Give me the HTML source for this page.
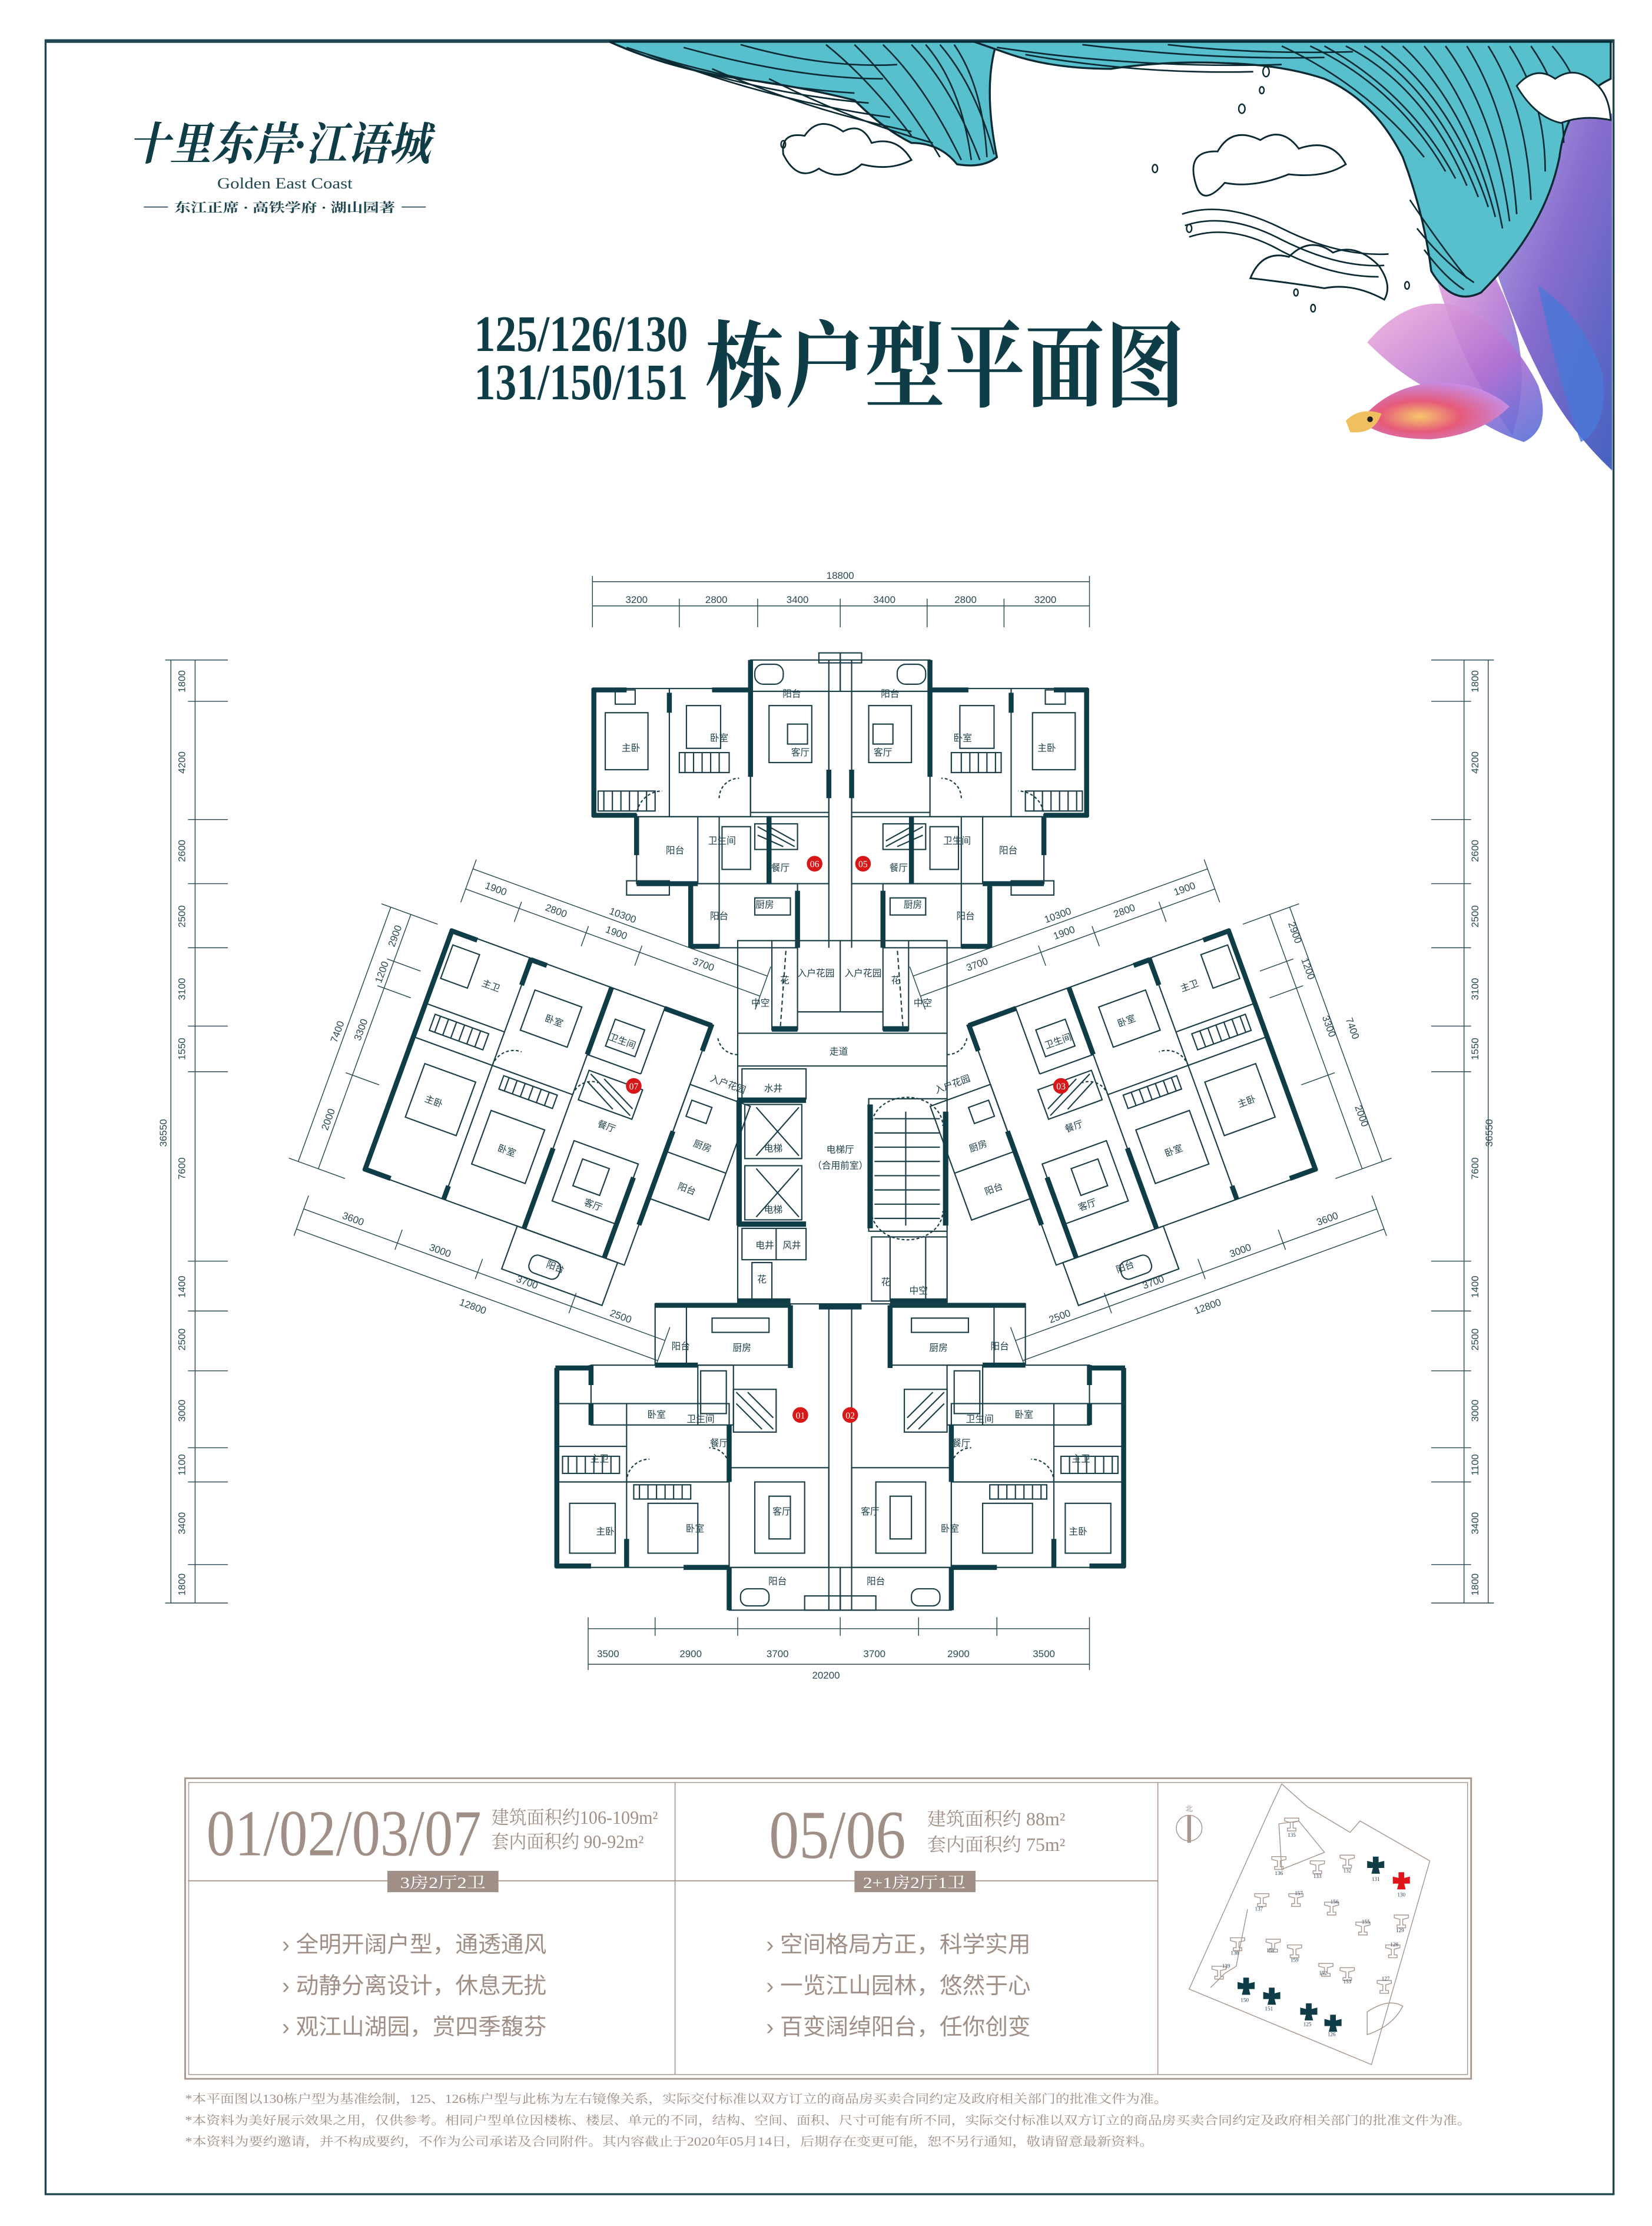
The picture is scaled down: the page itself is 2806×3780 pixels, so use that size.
<!DOCTYPE html>
<html><head><meta charset="utf-8">
<style>
html,body{margin:0;padding:0;background:#fff;}
svg{display:block;}
.t{font-family:"Liberation Serif","Noto Serif CJK SC",serif;}
.lb{font-family:"Liberation Sans","Noto Sans CJK SC",sans-serif;font-size:6.5px;fill:#1c3f48;}
.dm{font-family:"Liberation Sans",sans-serif;font-size:7px;fill:#2a4a52;}
</style></head>
<body>
<svg width="2806" height="3780" viewBox="0 0 1160 1562" xmlns="http://www.w3.org/2000/svg">
<defs>
<linearGradient id="fishA" x1="0" y1="0" x2="1" y2="1">
<stop offset="0" stop-color="#b8b0e8"/><stop offset="0.5" stop-color="#7a5cc8"/><stop offset="1" stop-color="#3050b8"/></linearGradient>
<linearGradient id="fishB" x1="0" y1="0" x2="1" y2="1">
<stop offset="0" stop-color="#f2b0dc"/><stop offset="0.6" stop-color="#b070d2"/><stop offset="1" stop-color="#5070d8"/></linearGradient>
<radialGradient id="fishC" cx="0.4" cy="0.6" r="0.6">
<stop offset="0" stop-color="#f7c76b"/><stop offset="0.45" stop-color="#e65a7a"/><stop offset="1" stop-color="#c98ae0"/></radialGradient>

<g id="upHalf" fill="none" stroke="#1c3f48" stroke-width="0.9">
 <rect x="416" y="483" width="111" height="90"/>
 <line x1="470" y1="483" x2="470" y2="573"/>
 <rect x="527" y="463" width="63" height="22"/>
 <rect x="527" y="485" width="55" height="85"/>
 <rect x="540" y="495" width="30" height="40"/>
 <rect x="553" y="508" width="14" height="14"/>
 <rect x="447" y="573" width="93" height="47"/>
 <line x1="490" y1="573" x2="490" y2="620"/>
 <line x1="505" y1="573" x2="505" y2="620"/>
 <rect x="540" y="573" width="42" height="47"/>
 <rect x="530" y="578" width="30" height="18"/>
 <path d="M532 580 L558 594 M540 580 L558 590 M532 586 L550 594"/>
 <rect x="485" y="620" width="75" height="45"/>
 <line x1="505" y1="620" x2="505" y2="665"/>
 <rect x="440" y="618" width="30" height="10"/>
 <rect x="420" y="555" width="40" height="14"/>
 <path d="M424 555 V569 M430 555 V569 M436 555 V569 M442 555 V569 M448 555 V569 M454 555 V569"/>
 <rect x="477" y="528" width="35" height="14"/>
 <path d="M481 528 V542 M487 528 V542 M493 528 V542 M499 528 V542 M505 528 V542"/>
 <rect x="425" y="500" width="30" height="40"/>
 <rect x="482" y="495" width="24" height="30"/>
 <rect x="432" y="484" width="14" height="10"/>
 <rect x="530" y="466" width="20" height="14" rx="6"/>
 <rect x="507" y="580" width="20" height="30"/>
 <rect x="530" y="630" width="25" height="12"/>
 <line x1="582" y1="463" x2="582" y2="665"/>
 <path d="M447 573 A18 18 0 0 1 465 555" stroke-dasharray="2 1.5"/>
 <path d="M505 560 A14 14 0 0 1 519 546" stroke-dasharray="2 1.5"/>
 <g stroke="#0f3d47" stroke-width="3.5">
  <line x1="417" y1="483" x2="417" y2="573"/>
  <line x1="416" y1="484" x2="440" y2="484"/>
  <line x1="500" y1="484" x2="527" y2="484"/>
  <line x1="527" y1="483" x2="527" y2="545"/>
  <line x1="470" y1="486" x2="470" y2="500"/>
  <line x1="540" y1="573" x2="540" y2="620"/>
  <line x1="485" y1="621" x2="485" y2="665"/>
  <line x1="485" y1="664" x2="505" y2="664"/>
  <line x1="447" y1="620" x2="490" y2="620"/>
  <line x1="560" y1="625" x2="560" y2="665"/>
  <line x1="447" y1="573" x2="447" y2="600"/>
  <line x1="416" y1="572" x2="447" y2="572"/>
  <line x1="527" y1="463" x2="527" y2="485"/>
  <line x1="582" y1="540" x2="582" y2="560"/>
 </g>
 <rect x="575" y="458" width="15" height="7"/>
</g>

<g id="lowHalf" fill="none" stroke="#1c3f48" stroke-width="0.9">
 <rect x="460" y="915" width="95" height="43"/>
 <line x1="482" y1="915" x2="482" y2="958"/>
 <rect x="415" y="958" width="100" height="42"/>
 <line x1="490" y1="958" x2="490" y2="1000"/>
 <rect x="390" y="985" width="122" height="115"/>
 <line x1="440" y1="985" x2="440" y2="1100"/>
 <line x1="390" y1="1040" x2="512" y2="1040"/>
 <line x1="390" y1="1015" x2="440" y2="1015"/>
 <rect x="512" y="1030" width="70" height="70"/>
 <rect x="530" y="1040" width="35" height="50"/>
 <rect x="540" y="1050" width="15" height="30"/>
 <rect x="512" y="1100" width="78" height="30"/>
 <rect x="520" y="1115" width="20" height="12" rx="5"/>
 <rect x="515" y="975" width="30" height="30"/>
 <path d="M517 977 L543 1003 M525 977 L543 995 M517 985 L535 1003"/>
 <rect x="400" y="1055" width="32" height="35"/>
 <rect x="455" y="1055" width="35" height="35"/>
 <rect x="445" y="1042" width="40" height="10"/>
 <path d="M449 1042 V1052 M455 1042 V1052 M461 1042 V1052 M467 1042 V1052 M473 1042 V1052 M479 1042 V1052"/>
 <rect x="395" y="1022" width="40" height="12"/>
 <path d="M399 1022 V1034 M405 1022 V1034 M411 1022 V1034 M417 1022 V1034 M423 1022 V1034 M429 1022 V1034"/>
 <rect x="492" y="962" width="18" height="30"/>
 <rect x="500" y="925" width="40" height="10"/>
 <line x1="582" y1="915" x2="582" y2="1130"/>
 <rect x="565" y="1120" width="25" height="10"/>
 <path d="M440 1040 A16 16 0 0 1 456 1024" stroke-dasharray="2 1.5"/>
 <path d="M512 1030 A14 14 0 0 0 498 1016" stroke-dasharray="2 1.5"/>
 <g stroke="#0f3d47" stroke-width="3.5">
  <line x1="391" y1="960" x2="391" y2="1100"/>
  <line x1="390" y1="960" x2="415" y2="960"/>
  <line x1="460" y1="916" x2="555" y2="916"/>
  <line x1="512" y1="1100" x2="512" y2="1130"/>
  <line x1="440" y1="1080" x2="440" y2="1100"/>
  <line x1="415" y1="985" x2="415" y2="1000"/>
  <line x1="512" y1="1000" x2="512" y2="1040"/>
  <line x1="480" y1="1100" x2="512" y2="1100"/>
  <line x1="390" y1="1099" x2="415" y2="1099"/>
  <line x1="415" y1="958" x2="415" y2="972"/>
  <line x1="460" y1="958" x2="490" y2="958"/>
  <line x1="555" y1="916" x2="555" y2="960"/>
 </g>
</g>

<g id="wing" fill="none" stroke="#1c3f48" stroke-width="0.9">
 <rect x="280" y="680" width="195" height="180"/>
 <line x1="340" y1="680" x2="340" y2="860"/>
 <line x1="400" y1="680" x2="400" y2="860"/>
 <line x1="280" y1="760" x2="400" y2="760"/>
 <line x1="280" y1="735" x2="340" y2="735"/>
 <line x1="440" y1="680" x2="440" y2="730"/>
 <line x1="400" y1="730" x2="440" y2="730"/>
 <rect x="405" y="740" width="40" height="22"/>
 <path d="M407 742 L443 760 M417 742 L443 755 M407 748 L430 760"/>
 <rect x="412" y="790" width="48" height="45"/>
 <rect x="422" y="800" width="20" height="20"/>
 <rect x="295" y="775" width="38" height="40"/>
 <rect x="350" y="790" width="40" height="40"/>
 <rect x="350" y="700" width="35" height="30"/>
 <rect x="290" y="740" width="40" height="12"/>
 <path d="M294 740 V752 M300 740 V752 M306 740 V752 M312 740 V752 M318 740 V752 M324 740 V752"/>
 <rect x="350" y="764" width="40" height="10"/>
 <path d="M354 764 V774 M360 764 V774 M366 764 V774 M372 764 V774 M378 764 V774 M384 764 V774"/>
 <rect x="395" y="860" width="75" height="32"/>
 <rect x="412" y="874" width="22" height="13" rx="5"/>
 <rect x="475" y="725" width="45" height="85"/>
 <line x1="475" y1="775" x2="520" y2="775"/>
 <rect x="480" y="735" width="15" height="12"/>
 <rect x="285" y="690" width="20" height="25"/>
 <rect x="410" y="700" width="22" height="20"/>
 <path d="M340 760 A16 16 0 0 1 356 744" stroke-dasharray="2 1.5"/>
 <path d="M400 760 A14 14 0 0 1 414 746" stroke-dasharray="2 1.5"/>
 <g stroke="#0f3d47" stroke-width="3.5">
  <line x1="281" y1="680" x2="281" y2="860"/>
  <line x1="280" y1="681" x2="300" y2="681"/>
  <line x1="340" y1="681" x2="352" y2="681"/>
  <line x1="400" y1="680" x2="400" y2="730"/>
  <line x1="440" y1="681" x2="475" y2="681"/>
  <line x1="475" y1="680" x2="475" y2="700"/>
  <line x1="400" y1="800" x2="400" y2="860"/>
  <line x1="460" y1="800" x2="460" y2="860"/>
  <line x1="280" y1="859" x2="300" y2="859"/>
  <line x1="340" y1="850" x2="340" y2="860"/>
  <line x1="475" y1="760" x2="475" y2="830"/>
  <line x1="340" y1="680" x2="340" y2="700"/>
 </g>
</g>

<g id="bld" fill="#0f3d47">
 <path d="M-2 -6 L2 -6 L2 -2 L6 -3 L6 2 L2 2 L3 6 L-3 6 L-2 2 L-6 2 L-6 -3 L-2 -2 Z"/>
</g>
<g id="bldL" fill="none" stroke="#a89890" stroke-width="0.6">
 <path d="M-5 -3 L5 -3 L5 -1 L1 0 L1 4 L3 4 L3 6 L-3 6 L-3 4 L-1 4 L-1 0 L-5 -1 Z"/>
</g>
</defs>

<!-- frame -->
<rect x="32" y="28" width="1101" height="1512" fill="none" stroke="#1f4650" stroke-width="1.4"/>
<line x1="32" y1="28.5" x2="1133" y2="28.5" stroke="#1f4650" stroke-width="2.5"/>

<!-- fish (behind wave) -->
<path d="M1040 70 Q1110 50 1132 80 L1132 330 Q1100 300 1080 260 Q1050 200 1040 150 Z" fill="url(#fishA)" opacity="0.9"/>
<path d="M1005 150 Q1035 160 1055 205 Q1078 255 1062 305 Q1030 262 1015 215 Q1002 180 1005 150 Z" fill="url(#fishB)" opacity="0.85"/>
<path d="M960 240 Q990 205 1025 215 Q1060 230 1080 270 Q1090 300 1070 310 Q1040 300 1020 280 Q990 270 960 240 Z" fill="url(#fishB)" opacity="0.9"/>
<path d="M1080 200 Q1110 220 1125 260 Q1130 300 1110 310 Q1095 270 1080 200 Z" fill="#4a78d8" opacity="0.8"/>
<path d="M955 295 Q975 270 1010 268 Q1040 268 1060 285 Q1040 305 1005 308 Q970 308 955 295 Z" fill="url(#fishC)"/>
<path d="M945 295 Q955 285 970 290 Q965 305 948 303 Z" fill="#f0c060"/>
<circle cx="962" cy="294" r="2" fill="#222"/>

<!-- wave -->
<g>
 <path d="M428 29 L700 29 Q690 60 700 110 Q690 118 672 115 Q660 100 640 100 Q620 90 600 70 Q560 60 520 55 Q470 48 428 29 Z" fill="#58bfcc" stroke="#0b2a33" stroke-width="1.4"/>
 <path d="M684 29 L1131 29 L1131 55 Q1100 70 1095 110 Q1085 160 1040 205 Q1020 215 1005 190 Q1000 150 985 110 Q965 70 930 55 Q900 45 860 44 Q820 42 780 48 Q740 48 710 38 Z" fill="#58bfcc" stroke="#0b2a33" stroke-width="1.4"/>
 <g fill="none" stroke="#0b2a33" stroke-width="1.1">
  <path d="M440 33 Q520 60 600 65"/><path d="M455 38 Q530 65 610 72"/><path d="M470 43 Q550 72 625 82"/>
  <path d="M500 48 Q570 78 640 92"/><path d="M540 55 Q600 85 655 100"/><path d="M480 33 Q560 55 620 55"/><path d="M520 31 Q580 48 630 45"/>
  <path d="M600 31 Q630 60 660 110"/><path d="M620 31 Q650 60 675 112"/><path d="M640 31 Q668 60 688 112"/><path d="M660 31 Q685 60 698 108"/>
  <path d="M580 31 Q610 55 640 95"/><path d="M650 31 Q675 60 682 112"/><path d="M670 31 Q690 60 693 110"/>
  <path d="M700 33 Q800 48 900 45"/><path d="M720 38 Q800 52 880 50"/><path d="M760 31 Q850 42 930 40"/><path d="M820 31 Q880 38 950 36"/>
  <path d="M900 32 Q960 60 1000 110"/><path d="M920 32 Q980 60 1015 120"/><path d="M945 32 Q1000 60 1030 130"/>
  <path d="M970 32 Q1020 70 1045 145"/><path d="M1000 32 Q1040 80 1055 160"/><path d="M1030 32 Q1060 80 1065 150"/>
  <path d="M1060 32 Q1085 70 1085 120"/><path d="M1090 32 Q1110 55 1110 80"/><path d="M990 140 Q1010 170 1030 195"/>
  <path d="M930 32 Q990 65 1022 125"/><path d="M958 32 Q1010 65 1038 138"/><path d="M985 32 Q1030 75 1050 152"/>
  <path d="M1015 32 Q1050 80 1060 155"/><path d="M1045 32 Q1072 75 1075 140"/><path d="M1075 32 Q1098 65 1098 100"/>
  <path d="M995 160 Q1015 185 1035 198"/><path d="M1000 175 Q1015 195 1028 203"/>
 </g>
 <g fill="#fff" stroke="#0b2a33" stroke-width="1.2">
  <path d="M550 108 Q548 92 565 95 Q575 80 592 92 Q605 85 612 100 Q630 95 640 112 Q625 120 605 115 Q590 128 575 118 Q560 128 550 108 Z"/>
  <path d="M840 130 Q832 105 855 106 Q865 88 885 98 Q900 88 912 104 Q935 96 945 115 Q930 125 905 122 Q880 132 860 128 Q845 145 840 130 Z"/>
  <path d="M878 195 Q886 175 905 180 Q920 165 936 177 Q952 170 968 186 Q978 200 972 210 Q950 198 930 202 Q905 198 878 195 Z"/>
  <path d="M1065 60 Q1078 45 1092 55 Q1106 45 1120 58 Q1130 66 1131 84 Q1112 80 1096 86 Q1078 82 1065 60 Z"/>
 </g>
 <g fill="none" stroke="#0b2a33" stroke-width="1.1">
  <path d="M830 150 Q860 140 900 160 Q940 180 975 178"/><path d="M832 158 Q862 148 900 168 Q940 188 972 186"/>
  <path d="M835 166 Q865 156 900 176 Q935 194 968 194"/>
 </g>
 <g fill="none" stroke="#0b2a33" stroke-width="1">
  <ellipse cx="889" cy="50" rx="2.2" ry="3.5"/><ellipse cx="886" cy="63" rx="1.6" ry="2.4"/><ellipse cx="872" cy="76" rx="2.2" ry="3.2"/>
  <ellipse cx="550" cy="101" rx="1.6" ry="2.6"/><ellipse cx="811" cy="118" rx="1.8" ry="2.8"/><ellipse cx="835" cy="160" rx="1.8" ry="2.8"/>
  <ellipse cx="910" cy="205" rx="1.5" ry="2.4"/><ellipse cx="922" cy="216" rx="1.6" ry="2.6"/><ellipse cx="988" cy="200" rx="1.6" ry="2.6"/>
 </g>
</g>

<!-- logo -->
<text x="90" y="112" class="t" font-size="32" font-style="italic" font-weight="bold" fill="#0f3d47" textLength="212" lengthAdjust="spacingAndGlyphs">十里东岸·江语城</text>
<text x="200" y="132" class="t" font-size="11" fill="#1f4650" text-anchor="middle" textLength="95" lengthAdjust="spacingAndGlyphs">Golden East Coast</text>
<line x1="101" y1="145" x2="118" y2="145" stroke="#1f4650" stroke-width="0.7"/>
<line x1="282" y1="145" x2="299" y2="145" stroke="#1f4650" stroke-width="0.7"/>
<text x="200" y="148.5" class="t" font-size="9" font-weight="bold" fill="#1f4650" text-anchor="middle" textLength="155" lengthAdjust="spacingAndGlyphs">东江正席 · 高铁学府 · 湖山园著</text>

<!-- title -->
<text x="333" y="246" class="t" font-size="36" font-weight="bold" fill="#0f3d47" textLength="150" lengthAdjust="spacingAndGlyphs">125/126/130</text>
<text x="333" y="280" class="t" font-size="36" font-weight="bold" fill="#0f3d47" textLength="150" lengthAdjust="spacingAndGlyphs">131/150/151</text>
<text x="495" y="280" font-family="'Noto Serif CJK SC','Liberation Serif',serif" font-weight="bold" font-size="66" fill="#0f3d47" textLength="337" lengthAdjust="spacingAndGlyphs">栋户型平面图</text>

<!-- dimension lines -->
<g stroke="#2a4a52" stroke-width="0.6" fill="none">
 <line x1="416" y1="408" x2="765" y2="408"/>
 <line x1="416" y1="425" x2="765" y2="425"/>
 <line x1="416" y1="404" x2="416" y2="440"/><line x1="477" y1="420" x2="477" y2="440"/><line x1="532" y1="420" x2="532" y2="440"/>
 <line x1="590" y1="420" x2="590" y2="440"/><line x1="651" y1="420" x2="651" y2="440"/><line x1="705" y1="420" x2="705" y2="440"/><line x1="765" y1="404" x2="765" y2="440"/>
 <line x1="413" y1="1168" x2="765" y2="1168"/>
 <line x1="413" y1="1143" x2="765" y2="1143"/>
 <line x1="413" y1="1135" x2="413" y2="1172"/><line x1="460" y1="1135" x2="460" y2="1148"/><line x1="518" y1="1135" x2="518" y2="1148"/>
 <line x1="590" y1="1135" x2="590" y2="1148"/><line x1="645" y1="1135" x2="645" y2="1148"/><line x1="700" y1="1135" x2="700" y2="1148"/><line x1="765" y1="1135" x2="765" y2="1172"/>
 <line x1="120" y1="463" x2="120" y2="1125"/><line x1="137" y1="463" x2="137" y2="1125"/>
 <line x1="1045" y1="463" x2="1045" y2="1125"/><line x1="1028" y1="463" x2="1028" y2="1125"/>
</g>
<g stroke="#2a4a52" stroke-width="0.6">
 <line x1="116" y1="463" x2="160" y2="463"/><line x1="132" y1="492" x2="160" y2="492"/><line x1="132" y1="575" x2="160" y2="575"/>
 <line x1="132" y1="620" x2="160" y2="620"/><line x1="132" y1="665" x2="160" y2="665"/><line x1="132" y1="720" x2="160" y2="720"/>
 <line x1="132" y1="752" x2="160" y2="752"/><line x1="132" y1="885" x2="160" y2="885"/><line x1="132" y1="920" x2="160" y2="920"/>
 <line x1="132" y1="962" x2="160" y2="962"/><line x1="132" y1="1016" x2="160" y2="1016"/><line x1="132" y1="1040" x2="160" y2="1040"/>
 <line x1="132" y1="1098" x2="160" y2="1098"/><line x1="116" y1="1125" x2="160" y2="1125"/>
 <line x1="1005" y1="463" x2="1049" y2="463"/><line x1="1005" y1="492" x2="1033" y2="492"/><line x1="1005" y1="575" x2="1033" y2="575"/>
 <line x1="1005" y1="620" x2="1033" y2="620"/><line x1="1005" y1="665" x2="1033" y2="665"/><line x1="1005" y1="720" x2="1033" y2="720"/>
 <line x1="1005" y1="752" x2="1033" y2="752"/><line x1="1005" y1="885" x2="1033" y2="885"/><line x1="1005" y1="920" x2="1033" y2="920"/>
 <line x1="1005" y1="962" x2="1033" y2="962"/><line x1="1005" y1="1016" x2="1033" y2="1016"/><line x1="1005" y1="1040" x2="1033" y2="1040"/>
 <line x1="1005" y1="1098" x2="1033" y2="1098"/><line x1="1005" y1="1125" x2="1049" y2="1125"/>
</g>
<g>
 <text class="dm" x="590" y="406" text-anchor="middle">18800</text>
 <text class="dm" x="447" y="423" text-anchor="middle">3200</text><text class="dm" x="503" y="423" text-anchor="middle">2800</text>
 <text class="dm" x="560" y="423" text-anchor="middle">3400</text><text class="dm" x="621" y="423" text-anchor="middle">3400</text>
 <text class="dm" x="678" y="423" text-anchor="middle">2800</text><text class="dm" x="734" y="423" text-anchor="middle">3200</text>
 <text class="dm" x="427" y="1163" text-anchor="middle">3500</text><text class="dm" x="485" y="1163" text-anchor="middle">2900</text>
 <text class="dm" x="546" y="1163" text-anchor="middle">3700</text><text class="dm" x="614" y="1163" text-anchor="middle">3700</text>
 <text class="dm" x="673" y="1163" text-anchor="middle">2900</text><text class="dm" x="733" y="1163" text-anchor="middle">3500</text>
 <text class="dm" x="580" y="1178" text-anchor="middle">20200</text>
</g>
<g>
 <text class="dm" transform="translate(130,478) rotate(-90)" text-anchor="middle">1800</text>
 <text class="dm" transform="translate(130,535) rotate(-90)" text-anchor="middle">4200</text>
 <text class="dm" transform="translate(130,597) rotate(-90)" text-anchor="middle">2600</text>
 <text class="dm" transform="translate(130,643) rotate(-90)" text-anchor="middle">2500</text>
 <text class="dm" transform="translate(130,694) rotate(-90)" text-anchor="middle">3100</text>
 <text class="dm" transform="translate(130,736) rotate(-90)" text-anchor="middle">1550</text>
 <text class="dm" transform="translate(130,820) rotate(-90)" text-anchor="middle">7600</text>
 <text class="dm" transform="translate(130,903) rotate(-90)" text-anchor="middle">1400</text>
 <text class="dm" transform="translate(130,940) rotate(-90)" text-anchor="middle">2500</text>
 <text class="dm" transform="translate(130,990) rotate(-90)" text-anchor="middle">3000</text>
 <text class="dm" transform="translate(130,1028) rotate(-90)" text-anchor="middle">1100</text>
 <text class="dm" transform="translate(130,1069) rotate(-90)" text-anchor="middle">3400</text>
 <text class="dm" transform="translate(130,1112) rotate(-90)" text-anchor="middle">1800</text>
 <text class="dm" transform="translate(117,795) rotate(-90)" text-anchor="middle">36550</text>
 <text class="dm" transform="translate(1038,478) rotate(-90)" text-anchor="middle">1800</text>
 <text class="dm" transform="translate(1038,535) rotate(-90)" text-anchor="middle">4200</text>
 <text class="dm" transform="translate(1038,597) rotate(-90)" text-anchor="middle">2600</text>
 <text class="dm" transform="translate(1038,643) rotate(-90)" text-anchor="middle">2500</text>
 <text class="dm" transform="translate(1038,694) rotate(-90)" text-anchor="middle">3100</text>
 <text class="dm" transform="translate(1038,736) rotate(-90)" text-anchor="middle">1550</text>
 <text class="dm" transform="translate(1038,820) rotate(-90)" text-anchor="middle">7600</text>
 <text class="dm" transform="translate(1038,903) rotate(-90)" text-anchor="middle">1400</text>
 <text class="dm" transform="translate(1038,940) rotate(-90)" text-anchor="middle">2500</text>
 <text class="dm" transform="translate(1038,990) rotate(-90)" text-anchor="middle">3000</text>
 <text class="dm" transform="translate(1038,1028) rotate(-90)" text-anchor="middle">1100</text>
 <text class="dm" transform="translate(1038,1069) rotate(-90)" text-anchor="middle">3400</text>
 <text class="dm" transform="translate(1038,1112) rotate(-90)" text-anchor="middle">1800</text>
 <text class="dm" transform="translate(1048,795) rotate(-90)" text-anchor="middle">36550</text>
</g>

<!-- wing dims -->
<g transform="rotate(20,378,770)">
 <g stroke="#2a4a52" stroke-width="0.6">
  <line x1="280" y1="635" x2="500" y2="635"/><line x1="280" y1="650" x2="500" y2="650"/>
  <line x1="280" y1="628" x2="280" y2="660"/><line x1="320" y1="645" x2="320" y2="660"/><line x1="370" y1="645" x2="370" y2="660"/>
  <line x1="410" y1="645" x2="410" y2="660"/><line x1="500" y1="628" x2="500" y2="660"/>
  <line x1="250" y1="680" x2="250" y2="870"/><line x1="235" y1="680" x2="235" y2="870"/>
  <line x1="228" y1="680" x2="270" y2="680"/><line x1="245" y1="715" x2="270" y2="715"/><line x1="245" y1="735" x2="270" y2="735"/>
  <line x1="245" y1="800" x2="270" y2="800"/><line x1="228" y1="870" x2="270" y2="870"/>
  <line x1="250" y1="900" x2="520" y2="900"/><line x1="250" y1="915" x2="520" y2="915"/>
  <line x1="250" y1="890" x2="250" y2="920"/><line x1="320" y1="890" x2="320" y2="905"/><line x1="380" y1="890" x2="380" y2="905"/>
  <line x1="450" y1="890" x2="450" y2="905"/><line x1="520" y1="890" x2="520" y2="920"/>
 </g>
 <text class="dm" x="300" y="645" text-anchor="middle">1900</text><text class="dm" x="345" y="645" text-anchor="middle">2800</text>
 <text class="dm" x="390" y="632" text-anchor="middle">10300</text><text class="dm" x="390" y="645" text-anchor="middle">1900</text>
 <text class="dm" x="455" y="645" text-anchor="middle">3700</text>
 <text class="dm" x="285" y="897" text-anchor="middle">3600</text><text class="dm" x="350" y="897" text-anchor="middle">3000</text>
 <text class="dm" x="415" y="897" text-anchor="middle">3700</text><text class="dm" x="485" y="897" text-anchor="middle">2500</text>
 <text class="dm" x="385" y="926" text-anchor="middle">12800</text>
 <text class="dm" transform="translate(247,698) rotate(-90)" text-anchor="middle">2900</text>
 <text class="dm" transform="translate(247,725) rotate(-90)" text-anchor="middle">1200</text>
 <text class="dm" transform="translate(247,768) rotate(-90)" text-anchor="middle">3300</text>
 <text class="dm" transform="translate(247,835) rotate(-90)" text-anchor="middle">2000</text>
 <text class="dm" transform="translate(232,775) rotate(-90)" text-anchor="middle">7400</text>
</g>
<g transform="rotate(-20,802,770)">
 <g stroke="#2a4a52" stroke-width="0.6">
  <line x1="680" y1="635" x2="900" y2="635"/><line x1="680" y1="650" x2="900" y2="650"/>
  <line x1="900" y1="628" x2="900" y2="660"/><line x1="860" y1="645" x2="860" y2="660"/><line x1="810" y1="645" x2="810" y2="660"/>
  <line x1="770" y1="645" x2="770" y2="660"/><line x1="680" y1="628" x2="680" y2="660"/>
  <line x1="930" y1="680" x2="930" y2="870"/><line x1="945" y1="680" x2="945" y2="870"/>
  <line x1="910" y1="680" x2="952" y2="680"/><line x1="910" y1="715" x2="935" y2="715"/><line x1="910" y1="735" x2="935" y2="735"/>
  <line x1="910" y1="800" x2="935" y2="800"/><line x1="910" y1="870" x2="952" y2="870"/>
  <line x1="660" y1="900" x2="930" y2="900"/><line x1="660" y1="915" x2="930" y2="915"/>
  <line x1="930" y1="890" x2="930" y2="920"/><line x1="860" y1="890" x2="860" y2="905"/><line x1="800" y1="890" x2="800" y2="905"/>
  <line x1="730" y1="890" x2="730" y2="905"/><line x1="660" y1="890" x2="660" y2="920"/>
 </g>
 <text class="dm" x="880" y="645" text-anchor="middle">1900</text><text class="dm" x="835" y="645" text-anchor="middle">2800</text>
 <text class="dm" x="790" y="632" text-anchor="middle">10300</text><text class="dm" x="790" y="645" text-anchor="middle">1900</text>
 <text class="dm" x="725" y="645" text-anchor="middle">3700</text>
 <text class="dm" x="895" y="897" text-anchor="middle">3600</text><text class="dm" x="830" y="897" text-anchor="middle">3000</text>
 <text class="dm" x="765" y="897" text-anchor="middle">3700</text><text class="dm" x="695" y="897" text-anchor="middle">2500</text>
 <text class="dm" x="795" y="926" text-anchor="middle">12800</text>
 <text class="dm" transform="translate(940,698) rotate(90)" text-anchor="middle">2900</text>
 <text class="dm" transform="translate(940,725) rotate(90)" text-anchor="middle">1200</text>
 <text class="dm" transform="translate(940,768) rotate(90)" text-anchor="middle">3300</text>
 <text class="dm" transform="translate(940,835) rotate(90)" text-anchor="middle">2000</text>
 <text class="dm" transform="translate(955,775) rotate(90)" text-anchor="middle">7400</text>
</g>

<!-- building blocks -->
<use href="#upHalf"/>
<use href="#upHalf" transform="translate(1180,0) scale(-1,1)"/>
<use href="#lowHalf"/>
<use href="#lowHalf" transform="translate(1180,0) scale(-1,1)"/>
<g transform="rotate(20,378,770)"><use href="#wing"/></g>
<g transform="translate(1180,0) scale(-1,1)"><g transform="rotate(20,378,770)"><use href="#wing"/></g></g>

<!-- core -->
<g fill="none" stroke="#1c3f48" stroke-width="0.9">
 <rect x="518" y="660" width="147" height="255"/>
 <line x1="542" y1="660" x2="542" y2="723"/><line x1="560" y1="660" x2="560" y2="723"/>
 <line x1="620" y1="660" x2="620" y2="723"/><line x1="638" y1="660" x2="638" y2="723"/>
 <line x1="590" y1="660" x2="590" y2="710"/>
 <line x1="560" y1="710" x2="620" y2="710"/>
 <line x1="518" y1="725" x2="665" y2="725"/><line x1="518" y1="748" x2="665" y2="748"/>
 <rect x="521" y="750" width="45" height="21"/>
 <rect x="523" y="775" width="40" height="38"/><rect x="523" y="818" width="40" height="38"/>
 <path d="M531 777 L561 811 M561 777 L531 811 M531 820 L561 854 M561 820 L531 854"/>
 <rect x="610" y="771" width="55" height="93"/>
 <path d="M614 785 H660 M614 795 H660 M614 805 H660 M614 815 H660 M614 825 H660 M614 835 H660 M614 845 H660 M614 855 H660"/>
 <line x1="636" y1="780" x2="636" y2="860"/>
 <rect x="521" y="862" width="45" height="22"/><line x1="545" y1="862" x2="545" y2="884"/>
 <rect x="528" y="886" width="14" height="27"/>
 <rect x="612" y="868" width="53" height="45"/><line x1="625" y1="868" x2="625" y2="913"/><line x1="650" y1="868" x2="650" y2="913"/>
 <path d="M548 720 L552 665 M634 720 L630 665" stroke-dasharray="3 2"/>
 <path d="M518 740 A14 14 0 0 1 504 728" stroke-dasharray="2 1.5"/>
 <path d="M665 740 A14 14 0 0 0 679 728" stroke-dasharray="2 1.5"/>
 <path d="M612 790 A25 20 0 0 1 662 790 M612 850 A25 20 0 0 0 662 850" stroke-dasharray="2 1.5"/>
</g>
<g stroke="#0f3d47" stroke-width="3.8" fill="none">
 <line x1="519" y1="772" x2="519" y2="860"/><line x1="518" y1="772" x2="566" y2="772"/><line x1="518" y1="859" x2="566" y2="859"/>
 <line x1="611" y1="775" x2="611" y2="862"/><line x1="664" y1="780" x2="664" y2="860"/>
 <line x1="560" y1="722" x2="542" y2="722"/><line x1="620" y1="722" x2="638" y2="722"/>
 <line x1="518" y1="913" x2="555" y2="913"/><line x1="625" y1="913" x2="665" y2="913"/>
 <line x1="575" y1="917" x2="605" y2="917"/>
</g>

<!-- labels -->
<g>
 <text class="lb" x="443" y="527" text-anchor="middle">主卧</text><text class="lb" x="505" y="520" text-anchor="middle">卧室</text>
 <text class="lb" x="562" y="530" text-anchor="middle">客厅</text><text class="lb" x="556" y="489" text-anchor="middle">阳台</text>
 <text class="lb" x="625" y="489" text-anchor="middle">阳台</text><text class="lb" x="620" y="530" text-anchor="middle">客厅</text>
 <text class="lb" x="676" y="520" text-anchor="middle">卧室</text><text class="lb" x="735" y="527" text-anchor="middle">主卧</text>
 <text class="lb" x="474" y="599" text-anchor="middle">阳台</text><text class="lb" x="507" y="592" text-anchor="middle">卫生间</text>
 <text class="lb" x="548" y="611" text-anchor="middle">餐厅</text><text class="lb" x="631" y="611" text-anchor="middle">餐厅</text>
 <text class="lb" x="672" y="592" text-anchor="middle">卫生间</text><text class="lb" x="708" y="599" text-anchor="middle">阳台</text>
 <text class="lb" x="537" y="637" text-anchor="middle">厨房</text><text class="lb" x="505" y="645" text-anchor="middle">阳台</text>
 <text class="lb" x="641" y="637" text-anchor="middle">厨房</text><text class="lb" x="678" y="645" text-anchor="middle">阳台</text>
 <text class="lb" x="573" y="685" text-anchor="middle">入户花园</text><text class="lb" x="606" y="685" text-anchor="middle">入户花园</text>
 <text class="lb" x="534" y="706" text-anchor="middle">中空</text><text class="lb" x="648" y="706" text-anchor="middle">中空</text>
 <text class="lb" x="551" y="690" text-anchor="middle">花</text><text class="lb" x="629" y="690" text-anchor="middle">花</text>
 <text class="lb" x="589" y="740" text-anchor="middle">走道</text><text class="lb" x="543" y="766" text-anchor="middle">水井</text>
 <text class="lb" x="543" y="808" text-anchor="middle">电梯</text><text class="lb" x="543" y="851" text-anchor="middle">电梯</text>
 <text class="lb" x="590" y="809" text-anchor="middle">电梯厅</text><text class="lb" x="590" y="820" text-anchor="middle" font-size="5.5">（合用前室）</text>
 <text class="lb" x="537" y="876" text-anchor="middle" font-size="5">电井</text><text class="lb" x="556" y="876" text-anchor="middle" font-size="5">风井</text>
 <text class="lb" x="645" y="908" text-anchor="middle">中空</text><text class="lb" x="622" y="902" text-anchor="middle">花</text>
 <text class="lb" x="535" y="900" text-anchor="middle">花</text>
 <text class="lb" x="478" y="947" text-anchor="middle">阳台</text><text class="lb" x="521" y="948" text-anchor="middle">厨房</text>
 <text class="lb" x="702" y="947" text-anchor="middle">阳台</text><text class="lb" x="659" y="948" text-anchor="middle">厨房</text>
 <text class="lb" x="461" y="995" text-anchor="middle">卧室</text><text class="lb" x="492" y="998" text-anchor="middle">卫生间</text>
 <text class="lb" x="505" y="1015" text-anchor="middle">餐厅</text><text class="lb" x="675" y="1015" text-anchor="middle">餐厅</text>
 <text class="lb" x="688" y="998" text-anchor="middle">卫生间</text><text class="lb" x="719" y="995" text-anchor="middle">卧室</text>
 <text class="lb" x="421" y="1026" text-anchor="middle">主卫</text><text class="lb" x="759" y="1026" text-anchor="middle">主卫</text>
 <text class="lb" x="425" y="1077" text-anchor="middle">主卧</text><text class="lb" x="488" y="1075" text-anchor="middle">卧室</text>
 <text class="lb" x="549" y="1063" text-anchor="middle">客厅</text><text class="lb" x="611" y="1063" text-anchor="middle">客厅</text>
 <text class="lb" x="667" y="1075" text-anchor="middle">卧室</text><text class="lb" x="757" y="1077" text-anchor="middle">主卧</text>
 <text class="lb" x="546" y="1112" text-anchor="middle">阳台</text><text class="lb" x="615" y="1112" text-anchor="middle">阳台</text>
</g>
<g transform="rotate(20,378,770)">
 <text class="lb" x="320" y="710" text-anchor="middle">主卫</text><text class="lb" x="370" y="718" text-anchor="middle">卧室</text>
 <text class="lb" x="420" y="715" text-anchor="middle">卫生间</text><text class="lb" x="430" y="775" text-anchor="middle">餐厅</text>
 <text class="lb" x="310" y="800" text-anchor="middle">主卧</text><text class="lb" x="370" y="815" text-anchor="middle">卧室</text>
 <text class="lb" x="440" y="830" text-anchor="middle">客厅</text><text class="lb" x="498" y="765" text-anchor="middle">厨房</text>
 <text class="lb" x="498" y="797" text-anchor="middle">阳台</text><text class="lb" x="430" y="880" text-anchor="middle">阳台</text>
 <text class="lb" x="500" y="718" text-anchor="middle">入户花园</text>
</g>
<g transform="rotate(-20,802,770)">
 <text class="lb" x="860" y="710" text-anchor="middle">主卫</text><text class="lb" x="810" y="718" text-anchor="middle">卧室</text>
 <text class="lb" x="760" y="715" text-anchor="middle">卫生间</text><text class="lb" x="750" y="775" text-anchor="middle">餐厅</text>
 <text class="lb" x="870" y="800" text-anchor="middle">主卧</text><text class="lb" x="810" y="815" text-anchor="middle">卧室</text>
 <text class="lb" x="740" y="830" text-anchor="middle">客厅</text><text class="lb" x="682" y="765" text-anchor="middle">厨房</text>
 <text class="lb" x="682" y="797" text-anchor="middle">阳台</text><text class="lb" x="750" y="880" text-anchor="middle">阳台</text>
 <text class="lb" x="680" y="718" text-anchor="middle">入户花园</text>
</g>
<g font-family="'Liberation Serif',serif" font-size="6.5" fill="#fff" text-anchor="middle">
 <circle cx="572" cy="606" r="5.5" fill="#d81818"/><text x="572" y="608.5">06</text>
 <circle cx="606" cy="606" r="5.5" fill="#d81818"/><text x="606" y="608.5">05</text>
 <circle cx="445" cy="762" r="5.5" fill="#d81818"/><text x="445" y="764.5">07</text>
 <circle cx="745" cy="762" r="5.5" fill="#d81818"/><text x="745" y="764.5">03</text>
 <circle cx="562" cy="993" r="5.5" fill="#d81818"/><text x="562" y="995.5">01</text>
 <circle cx="597" cy="993" r="5.5" fill="#d81818"/><text x="597" y="995.5">02</text>
</g>

<!-- bottom info panel -->
<g stroke="#a89890" fill="none">
 <rect x="130" y="1248" width="903" height="211" stroke-width="1.2"/>
 <rect x="132.5" y="1251" width="898" height="205" stroke-width="0.6"/>
 <line x1="474" y1="1251" x2="474" y2="1456" stroke-width="0.7"/>
 <line x1="813" y1="1251" x2="813" y2="1456" stroke-width="0.7"/>
 <line x1="132" y1="1320" x2="813" y2="1320" stroke-width="0.8"/>
</g>
<g fill="#a08f86">
 <text x="145" y="1302" class="t" font-size="46" textLength="193" lengthAdjust="spacingAndGlyphs">01/02/03/07</text>
 <text x="345" y="1280" class="t" font-size="13" textLength="117" lengthAdjust="spacingAndGlyphs">建筑面积约106-109m²</text>
 <text x="345" y="1297" class="t" font-size="13" textLength="107" lengthAdjust="spacingAndGlyphs">套内面积约 90-92m²</text>
 <text x="540" y="1304" class="t" font-size="48" textLength="96" lengthAdjust="spacingAndGlyphs">05/06</text>
 <text x="651" y="1281" class="t" font-size="13" textLength="97" lengthAdjust="spacingAndGlyphs">建筑面积约 88m²</text>
 <text x="651" y="1299" class="t" font-size="13" textLength="97" lengthAdjust="spacingAndGlyphs">套内面积约 75m²</text>
 <rect x="272" y="1313" width="78" height="15"/>
 <rect x="600" y="1313" width="85" height="15"/>
</g>
<g fill="#fff" font-family="'Liberation Serif','Noto Serif CJK SC',serif" font-size="11" text-anchor="middle">
 <text x="311" y="1325" textLength="60" lengthAdjust="spacingAndGlyphs">3房2厅2卫</text>
 <text x="642" y="1325" textLength="72" lengthAdjust="spacingAndGlyphs">2+1房2厅1卫</text>
</g>
<g fill="#a08f86" font-family="'Liberation Sans','Noto Sans CJK SC',sans-serif" font-size="16">
 <text x="198" y="1370">›  全明开阔户型，通透通风</text>
 <text x="198" y="1399">›  动静分离设计，休息无扰</text>
 <text x="198" y="1428">›  观江山湖园，赏四季馥芬</text>
 <text x="538" y="1370">›  空间格局方正，科学实用</text>
 <text x="538" y="1399">›  一览江山园林，悠然于心</text>
 <text x="538" y="1428">›  百变阔绰阳台，任你创变</text>
</g>
<!-- site map -->
<g stroke="#a89890" fill="none" stroke-width="0.6">
 <path d="M900 1252 L918 1268 L948 1286 L955 1278 L1004 1306 L963 1449 L835 1396 L892 1269 Z"/>
 <circle cx="835" cy="1283" r="9"/>
 <path d="M834 1274 L836 1274 L836 1293 L834 1293 Z" fill="#a89890"/>
 <path d="M960 1412 Q975 1402 985 1408 Q978 1422 960 1428 Z"/>
 <path d="M898 1280 L912 1278 L930 1300 L900 1312 Z"/>
 <path d="M876 1340 L868 1380 L860 1385 L850 1395"/>
</g>
<text x="835" y="1271" font-family="'Noto Sans CJK SC',sans-serif" font-size="5" fill="#a08f86" text-anchor="middle">北</text>
<g>
 <use href="#bldL" x="907" y="1279"/><use href="#bldL" x="898" y="1306"/><use href="#bldL" x="925" y="1309"/><use href="#bldL" x="946" y="1305"/>
 <use href="#bldL" x="910" y="1332"/><use href="#bldL" x="935" y="1338"/><use href="#bldL" x="886" y="1332"/><use href="#bldL" x="957" y="1352"/>
 <use href="#bldL" x="984" y="1347"/><use href="#bldL" x="869" y="1363"/><use href="#bldL" x="894" y="1364"/><use href="#bldL" x="909" y="1368"/>
 <use href="#bldL" x="978" y="1368"/><use href="#bldL" x="856" y="1383"/><use href="#bldL" x="931" y="1381"/><use href="#bldL" x="946" y="1384"/>
 <use href="#bldL" x="972" y="1393"/>
 <use href="#bld" x="966" y="1309"/><use href="#bld" x="875" y="1394"/><use href="#bld" x="893" y="1401"/>
 <use href="#bld" x="919" y="1412"/><use href="#bld" x="936" y="1420"/>
 <g transform="translate(984,1320)" fill="#e0141a"><path d="M-2 -6 L2 -6 L2 -2 L6 -3 L6 2 L2 2 L3 6 L-3 6 L-2 2 L-6 2 L-6 -3 L-2 -2 Z"/></g>
</g>
<g font-family="'Liberation Serif',serif" font-size="3.8" fill="#2a3f5a" text-anchor="middle">
 <text x="907" y="1289">135</text><text x="898" y="1316">136</text><text x="925" y="1318">133</text><text x="946" y="1314">132</text>
 <text x="966" y="1320">131</text><text x="984" y="1331">130</text><text x="912" y="1330">157</text><text x="937" y="1336">156</text>
 <text x="884" y="1341">137</text><text x="959" y="1350">155</text><text x="983" y="1356">129</text><text x="867" y="1372">138</text>
 <text x="892" y="1370">158</text><text x="909" y="1377">159</text><text x="979" y="1366">128</text><text x="861" y="1381">139</text>
 <text x="929" y="1386">152</text><text x="946" y="1392">153</text><text x="973" y="1390">127</text>
 <text x="874" y="1405">150</text><text x="891" y="1411">151</text><text x="918" y="1422">125</text><text x="935" y="1429">126</text>
</g>

<!-- footnotes -->
<g fill="#a08f86" font-family="'Liberation Serif','Noto Serif CJK SC',serif" font-size="8.5">
 <text x="130" y="1476" textLength="690" lengthAdjust="spacingAndGlyphs">*本平面图以130栋户型为基准绘制，125、126栋户型与此栋为左右镜像关系，实际交付标准以双方订立的商品房买卖合同约定及政府相关部门的批准文件为准。</text>
 <text x="130" y="1491" textLength="903" lengthAdjust="spacingAndGlyphs">*本资料为美好展示效果之用，仅供参考。相同户型单位因楼栋、楼层、单元的不同，结构、空间、面积、尺寸可能有所不同，实际交付标准以双方订立的商品房买卖合同约定及政府相关部门的批准文件为准。</text>
 <text x="130" y="1506" textLength="680" lengthAdjust="spacingAndGlyphs">*本资料为要约邀请，并不构成要约，不作为公司承诺及合同附件。其内容截止于2020年05月14日，后期存在变更可能，恕不另行通知，敬请留意最新资料。</text>
</g>
</svg>
</body></html>
